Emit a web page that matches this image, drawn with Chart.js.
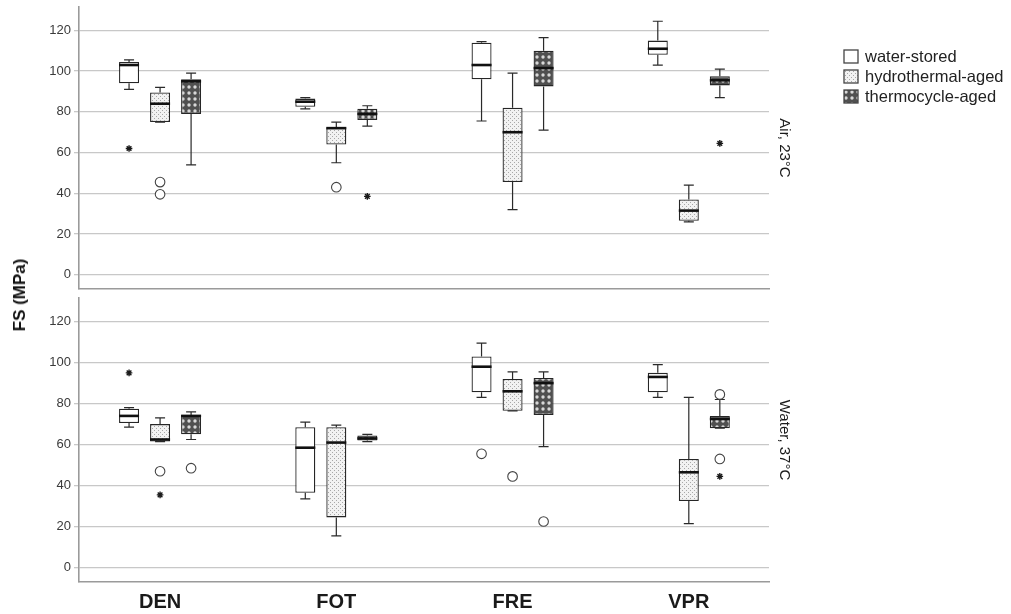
<!DOCTYPE html>
<html>
<head>
<meta charset="utf-8">
<script src="https://cdn.jsdelivr.net/npm/chart.js@4.4.1/dist/chart.umd.min.js"></script>
<style>
  html, body { margin: 0; padding: 0; background: #fff; }
  #wrap { position: relative; width: 1011px; height: 614px; overflow: hidden; font-family: 'Liberation Sans', Arial, sans-serif; }
  #top-box { position: absolute; left: 0; top: 0; width: 1011px; height: 296px; }
  #bot-box { position: absolute; left: 0; top: 292px; width: 1011px; height: 322px; }
  #ylabel { position: absolute; left: 20px; top: 295px; transform: translate(-50%, -50%) rotate(-90deg); font-weight: bold; font-size: 17px; color: #111; white-space: nowrap; }
  #legend { position: absolute; left: 843px; top: 46px; font-size: 16.5px; color: #222; }
  .item { display: flex; align-items: center; height: 20px; }
  .item canvas { width: 16px; height: 15px; margin-right: 6px; }
</style>
</head>
<body>
<div id="wrap">
  <div id="top-box"><canvas id="air-chart"></canvas></div>
  <div id="bot-box"><canvas id="water-chart"></canvas></div>
  <div id="ylabel">FS (MPa)</div>
  <div id="legend"></div>
</div>
<script>
// Flexural strength box plots, two storage panels

const groups = ['DEN', 'FOT', 'FRE', 'VPR'];
const seriesNames = ['water-stored', 'hydrothermal-aged', 'thermocycle-aged'];
const yTicks = [0, 20, 40, 60, 80, 100, 120];

// each box: [lower whisker, Q1, median, Q3, upper whisker]
const airWaterStored = [[91, 94, 103, 104.5, 105.5], [81.5, 82.5, 85, 86.5, 87], [75.5, 96, 103, 114, 114.5], [103, 108, 111, 115, 124.5]];
const airHydrothermal = [[75, 75, 84, 89.5, 92], [55, 64, 72, 72.5, 75], [32, 45.5, 70, 82, 99], [26, 26.5, 31.5, 37, 44]];
const airThermocycle = [[54, 79, 95, 96, 99], [73, 76, 79, 81.5, 83], [71, 92.5, 101.5, 110, 116.5], [87, 93, 95.5, 97.5, 101]];

const waterWaterStored = [[68.5, 70.5, 74, 77.5, 78], [33.5, 36.5, 58.5, 68.5, 71], [83, 85.5, 98, 103, 109.5], [83, 85.5, 93, 95, 99]];
const waterHydrothermal = [[61.5, 61.5, 62.5, 70, 73], [15.5, 24.5, 61, 68.5, 69.5], [76.5, 76.5, 86, 92, 95.5], [21.5, 32.5, 46.5, 53, 83]];
const waterThermocycle = [[62.5, 65, 74, 74.5, 76], [61.5, 62, 63, 64.5, 65], [59, 74.5, 90, 92.5, 95.5], [68, 68, 72.5, 74, 82]];

// outliers, indexed [series][group]
const airCircles = [[[], [], [], []], [[45.5, 39.5], [43], [], []], [[], [], [], []]];
const airStars = [[[62], [], [], []], [[], [], [], []], [[], [38.5], [], [64.5]]];
const waterCircles = [[[], [], [55.5], []], [[47], [], [44.5], []], [[48.5], [], [22.5], [84.5, 53]]];
const waterStars = [[[95], [], [], []], [[35.5], [], [], []], [[], [], [], [44.5]]];

const FONT = "'Liberation Sans', Arial, sans-serif";

function makeFill(kind) {
    if (kind === 0) return '#ffffff';
    const c = document.createElement('canvas');
    const ctx = c.getContext('2d');
    if (kind === 1) {
        c.width = 4; c.height = 4;
        ctx.fillStyle = '#f2f2f2';
        ctx.fillRect(0, 0, 4, 4);
        ctx.fillStyle = '#a8a8a8';
        ctx.fillRect(0, 0, 1, 1);
        ctx.fillRect(2, 2, 1, 1);
    } else {
        c.width = 6; c.height = 6;
        ctx.fillStyle = '#505050';
        ctx.fillRect(0, 0, 6, 6);
        ctx.fillStyle = '#d8d8d8';
        ctx.beginPath();
        ctx.arc(3, 3, 1.7, 0, Math.PI * 2);
        ctx.fill();
    }
    return ctx.createPattern(c, 'repeat');
}
const fills = [makeFill(0), makeFill(1), makeFill(2)];

// whiskers, medians and outliers on top of the floating bars
const boxPlotPlugin = {
    id: 'boxplot',
    afterDatasetsDraw(chart) {
        const ctx = chart.ctx;
        const ys = chart.scales.y;
        chart.data.datasets.forEach((ds, k) => {
            const meta = chart.getDatasetMeta(k);
            meta.data.forEach((bar, i) => {
                const [lo, q1, med, q3, hi] = ds.stats[i];
                const x = bar.x, half = bar.width / 2, cap = bar.width / 4;
                ctx.save();
                ctx.strokeStyle = '#2a2a2a';
                ctx.lineWidth = 1.2;
                ctx.beginPath();
                ctx.moveTo(x, ys.getPixelForValue(q3));
                ctx.lineTo(x, ys.getPixelForValue(hi));
                ctx.moveTo(x - cap, ys.getPixelForValue(hi));
                ctx.lineTo(x + cap, ys.getPixelForValue(hi));
                ctx.moveTo(x, ys.getPixelForValue(q1));
                ctx.lineTo(x, ys.getPixelForValue(lo));
                ctx.moveTo(x - cap, ys.getPixelForValue(lo));
                ctx.lineTo(x + cap, ys.getPixelForValue(lo));
                ctx.stroke();

                ctx.strokeStyle = '#111';
                ctx.lineWidth = 2.6;
                ctx.beginPath();
                ctx.moveTo(x - half, ys.getPixelForValue(med));
                ctx.lineTo(x + half, ys.getPixelForValue(med));
                ctx.stroke();

                ctx.strokeStyle = '#444';
                ctx.fillStyle = '#fff';
                ctx.lineWidth = 1.1;
                ds.circles[i].forEach(v => {
                    Chart.helpers.drawPoint(ctx, { pointStyle: 'circle', radius: 4.8, rotation: 0, borderWidth: 1.1 }, x, ys.getPixelForValue(v));
                });
                ctx.strokeStyle = '#1a1a1a';
                ctx.lineWidth = 1.4;
                ds.stars[i].forEach(v => {
                    Chart.helpers.drawPoint(ctx, { pointStyle: 'star', radius: 3.3, rotation: 0, borderWidth: 1.4 }, x, ys.getPixelForValue(v));
                });
                ctx.restore();
            });
        });
    }
};

function makePanel(canvasId, boxes, circles, stars, label, bottom) {
    const ctx = document.getElementById(canvasId).getContext('2d');
    return new Chart(ctx, {
        type: 'bar',
        data: {
            datasets: seriesNames.map((name, k) => ({
                label: name,
                data: groups.map((g, i) => ({ x: i, y: [boxes[k][i][1], boxes[k][i][3]] })),
                stats: boxes[k],
                circles: circles[k],
                stars: stars[k],
                xAxisID: 'x',
                yAxisID: 'y',
                backgroundColor: fills[k],
                borderColor: '#262626',
                borderWidth: 1.3,
                borderSkipped: false,
                categoryPercentage: 0.528,
                barPercentage: 0.645,
            }))
        },
        options: {
            responsive: true,
            maintainAspectRatio: false,
            animation: false,
            events: [],
            layout: { padding: { left: 0, right: 214, top: bottom ? 6 : 7, bottom: bottom ? 0 : 7 } },
            plugins: { legend: { display: false }, tooltip: { enabled: false } },
            scales: {
                x: {
                    type: 'linear',
                    position: 'bottom',
                    offset: false,
                    min: -0.46,
                    max: 3.455,
                    afterBuildTicks: s => { s.ticks = groups.map((g, i) => ({ value: i })); },
                    afterFit: s => {
                        s.height = bottom ? 32 : 0;
                        s.paddingLeft = 0; s.paddingRight = 0;
                    },
                    grid: { display: true, offset: false, color: 'rgba(0,0,0,0)', drawTicks: false },
                    border: { display: true, color: '#9a9a9a', width: 1.6 },
                    ticks: {
                        display: bottom,
                        padding: 8,
                        color: '#1a1a1a',
                        font: { size: 20, weight: 'bold', family: FONT },
                        callback: v => groups[v]
                    }
                },
                y: {
                    type: 'linear',
                    position: 'left',
                    min: -7,
                    max: 131.5,
                    afterBuildTicks: s => { s.ticks = yTicks.map(v => ({ value: v })); },
                    afterFit: s => {
                        s.width = 79;
                        s.paddingTop = 0; s.paddingBottom = 0;
                    },
                    grid: { color: '#c8c8c8', lineWidth: 1.3, drawTicks: true, tickLength: 5 },
                    border: { display: true, color: '#9a9a9a', width: 1.6 },
                    ticks: { padding: 3, color: '#3a3a3a', font: { size: 13, family: FONT } }
                },
                yr: {
                    type: 'linear',
                    axis: 'y',
                    position: 'right',
                    min: 0,
                    max: 1,
                    afterFit: s => {
                        s.width = 28;
                        s.paddingTop = 0; s.paddingBottom = 0;
                    },
                    grid: { display: false, drawTicks: false },
                    border: { display: false },
                    ticks: { display: false },
                    title: { display: true, text: label, color: '#1a1a1a', font: { size: 15, family: FONT }, padding: { top: 4, bottom: 4 } }
                }
            }
        },
        plugins: [boxPlotPlugin]
    });
}

makePanel('air-chart', [airWaterStored, airHydrothermal, airThermocycle], airCircles, airStars, 'Air, 23°C', false);
makePanel('water-chart', [waterWaterStored, waterHydrothermal, waterThermocycle], waterCircles, waterStars, 'Water, 37°C', true);

// legend with the same fills
const legendEl = document.getElementById('legend');
seriesNames.forEach((name, k) => {
    const row = document.createElement('div');
    row.className = 'item';
    const sw = document.createElement('canvas');
    sw.width = 16; sw.height = 15;
    const c = sw.getContext('2d');
    c.fillStyle = fills[k];
    c.fillRect(1, 1, 14, 13);
    c.strokeStyle = '#444';
    c.lineWidth = 1.3;
    c.strokeRect(1, 1, 14, 13);
    row.appendChild(sw);
    const txt = document.createElement('span');
    txt.textContent = name;
    row.appendChild(txt);
    legendEl.appendChild(row);
});
</script>
</body>
</html>
